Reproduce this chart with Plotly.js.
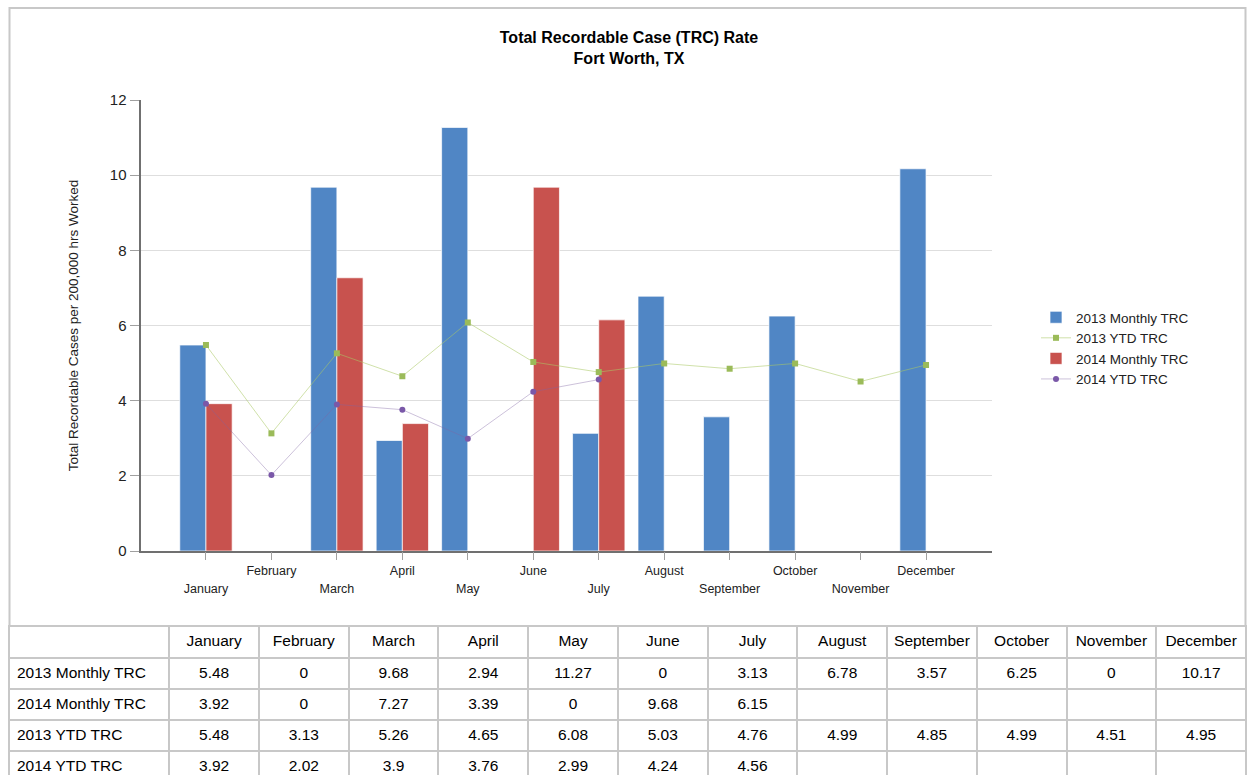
<!DOCTYPE html>
<html><head><meta charset="utf-8">
<script src="https://cdn.plot.ly/plotly-3.0.1.min.js"></script>
<style>html,body{margin:0;padding:0;background:#fff}#chart{width:1253px;height:775px}</style>
</head><body><div id="chart"></div>
<script>
const months = ["January","February","March","April","May","June","July","August","September","October","November","December"];
const monthly2013 = [5.48, 0, 9.68, 2.94, 11.27, 0, 3.13, 6.78, 3.57, 6.25, 0, 10.17];
const monthly2014 = [3.92, 0, 7.27, 3.39, 0, 9.68, 6.15, null, null, null, null, null];
const ytd2013 = [5.48, 3.13, 5.26, 4.65, 6.08, 5.03, 4.76, 4.99, 4.85, 4.99, 4.51, 4.95];
const ytd2014 = [3.92, 2.02, 3.9, 3.76, 2.99, 4.24, 4.56, null, null, null, null, null];
const rowLabels = ["2013 Monthly TRC", "2014 Monthly TRC", "2013 YTD TRC", "2014 YTD TRC"];
const chartTitle = "Total Recordable Case (TRC) Rate<br>Fort Worth, TX";
const yTitle = "Total Recordable Cases per 200,000 hrs Worked";

const W = 1253, H = 775;
const px = x => x / W, py = y => 1 - y / H;
const FONT = "Liberation Sans, Arial, sans-serif";
const idx = months.map((_, i) => i);
const fmt = v => (v === null || v === undefined) ? "" : String(v);

const traces = [
  {type: "bar", name: "2013 Monthly TRC", x: idx, y: monthly2013,
   marker: {color: "#5086C5", line: {color: "rgba(255,255,255,0.7)", width: 1}}},
  {type: "scatter", mode: "lines+markers", name: "2013 YTD TRC", x: idx, y: ytd2013, xaxis: "x2",
   line: {color: "rgba(170,200,100,0.55)", width: 1},
   marker: {color: "#9BBB59", symbol: "square", size: 6}},
  {type: "bar", name: "2014 Monthly TRC", x: idx, y: monthly2014,
   marker: {color: "#C8524E", line: {color: "rgba(255,255,255,0.7)", width: 1}}},
  {type: "scatter", mode: "lines+markers", name: "2014 YTD TRC", x: idx, y: ytd2014,
   line: {color: "rgba(128,100,162,0.4)", width: 1},
   marker: {color: "#7A58A8", symbol: "circle", size: 6}},
  {type: "table",
   domain: {x: [px(9), px(1246)], y: [0, py(626)]},
   columnwidth: [160].concat(months.map(() => 89.6)),
   header: {values: [""].concat(months), align: "center", height: 32,
            line: {color: "#c8c8c8", width: 2}, fill: {color: "#ffffff"},
            font: {family: FONT, size: 15.5, color: "#000"}},
   cells: {values: [rowLabels].concat(months.map((m, i) => [fmt(monthly2013[i]), fmt(monthly2014[i]), fmt(ytd2013[i]), fmt(ytd2014[i])])),
           align: ["left"].concat(months.map(() => "center")), height: 31,
           line: {color: "#c8c8c8", width: 2}, fill: {color: "#ffffff"},
           font: {family: FONT, size: 15.5, color: "#000"}}}
];

const layout = {
  width: W, height: H,
  margin: {l: 0, r: 0, t: 0, b: 0},
  paper_bgcolor: "#fff", plot_bgcolor: "#fff",
  font: {family: FONT, color: "#000"},
  barmode: "group", bargap: 0.2, bargroupgap: 0,
  title: {text: "<b>" + chartTitle + "</b>", x: px(629), xanchor: "center", y: py(43), yanchor: "top",
          font: {family: FONT, size: 16, color: "#000"}},
  xaxis: {domain: [px(140.5), px(991.5)], type: "linear", range: [-1, 12],
          tickvals: idx, ticktext: months.map((m, i) => i % 2 === 1 ? m : ""),
          ticks: "outside", ticklen: 7, tickcolor: "#a0a0a0", tickwidth: 1,
          tickfont: {family: FONT, size: 12.5, color: "#222"},
          showline: true, linecolor: "#707070", linewidth: 2, showgrid: false, zeroline: false, automargin: false},
  xaxis2: {overlaying: "x", anchor: "y", side: "bottom", type: "linear", range: [-1, 12],
           tickvals: idx, ticktext: months.map((m, i) => i % 2 === 0 ? m : ""),
           ticks: "outside", ticklen: 7, tickcolor: "#a0a0a0", tickwidth: 1, ticklabelstandoff: 19,
           tickfont: {family: FONT, size: 12.5, color: "#222"},
           showline: false, showgrid: false, zeroline: false, automargin: false},
  yaxis: {domain: [py(551), py(100)], range: [0, 12], dtick: 2,
          ticks: "outside", ticklen: 9, tickcolor: "#a0a0a0", tickwidth: 1,
          tickfont: {family: FONT, size: 15, color: "#222"},
          showline: true, linecolor: "#707070", linewidth: 2,
          showgrid: true, gridcolor: "#dedede", gridwidth: 1, zeroline: false, automargin: false,
          title: {text: yTitle, standoff: 28, font: {family: FONT, size: 13.5, color: "#222"}}},
  legend: {x: px(1036), xanchor: "left", y: py(302), yanchor: "top",
           font: {family: FONT, size: 13.5, color: "#222"}, bgcolor: "rgba(0,0,0,0)", tracegroupgap: 0},
  shapes: [
    {type: "rect", xref: "paper", yref: "paper", x0: px(9.5), x1: px(1245.5), y0: py(626), y1: py(8),
     line: {color: "#c8c8c8", width: 2}, fillcolor: "rgba(0,0,0,0)", layer: "below"}
  ]
};

Plotly.newPlot("chart", traces, layout, {staticPlot: true, displayModeBar: false});
</script></body></html>
